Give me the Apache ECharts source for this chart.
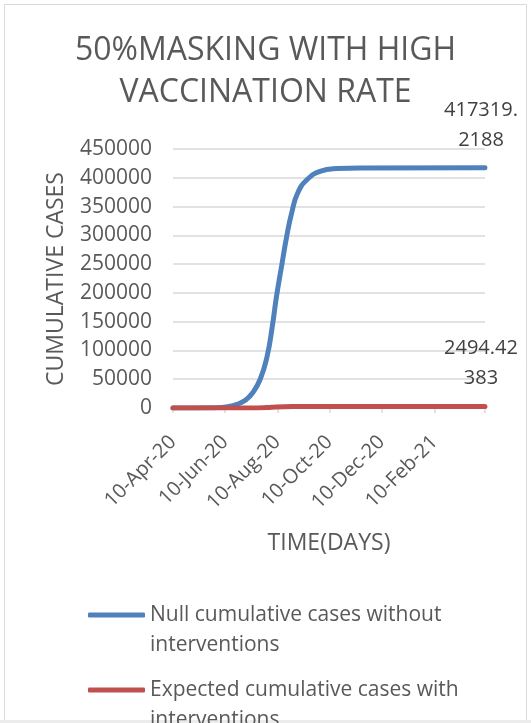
<!DOCTYPE html>
<html>
<head>
<meta charset="utf-8">
<script src="https://cdn.jsdelivr.net/npm/echarts@6/dist/echarts.min.js"></script>
<style>
  html, body { margin: 0; padding: 0; background: #ffffff; }
  #chart { width: 531px; height: 723px; }
</style>
</head>
<body>
<div id="chart"></div>
<script>
// Axis: one category per day, labelled every two months on the 10th
const startDate = '2020-04-10';
const endDate = '2021-04-10';
const tickLabels = ['10-Apr-20', '10-Jun-20', '10-Aug-20', '10-Oct-20', '10-Dec-20', '10-Feb-21'];
const yTicks = [0, 50000, 100000, 150000, 200000, 250000, 300000, 350000, 400000, 450000];

// Null cumulative cases without interventions
const nullDates = ['10-Apr-20', '30-May-20', '14-Jun-20', '24-Jun-20', '4-Jul-20', '12-Jul-20',
  '21-Jul-20', '29-Jul-20', '4-Aug-20', '9-Aug-20', '15-Aug-20', '21-Aug-20', '27-Aug-20',
  '3-Sep-20', '14-Sep-20', '29-Sep-20', '19-Oct-20', '16-Nov-20', '10-Apr-21'];
const nullValues = [0, 500, 2500, 6500, 14000, 26000, 50000, 89000, 140000, 193000, 246000,
  298000, 340000, 374000, 397000, 411000, 416000, 417200, 417319.2188];

// Expected cumulative cases with interventions
const expDates = ['10-Apr-20', '9-Jul-20', '29-Jul-20', '8-Aug-20', '18-Aug-20', '7-Sep-20', '10-Apr-21'];
const expValues = [0, 100, 800, 1800, 2300, 2480, 2494.42383];

const seriesNames = ['Null cumulative cases without interventions',
  'Expected cumulative cases with interventions'];
const yTitle = 'CUMULATIVE CASES';

const MONTHS = ['Jan', 'Feb', 'Mar', 'Apr', 'May', 'Jun', 'Jul', 'Aug', 'Sep', 'Oct', 'Nov', 'Dec'];
function fmtDate(d) {
  return d.getUTCDate() + '-' + MONTHS[d.getUTCMonth()] + '-' + String(d.getUTCFullYear()).slice(2);
}
const days = [];
for (let t = Date.parse(startDate); t <= Date.parse(endDate); t += 86400000) {
  days.push(fmtDate(new Date(t)));
}
const lastDay = days[days.length - 1];

const FONT = '"Open Sans", "Noto Sans", sans-serif';
const GREY = '#595959';

function pairs(xs, ys) { return xs.map((x, i) => [x, ys[i]]); }

// Value label on the final point of a series, split over two lines
function endLabel(series) {
  return series.map((p, i) => i === series.length - 1 ? {
    value: p,
    label: {
      show: true, position: 'top', distance: 12, offset: [-4, 0],
      fontFamily: FONT, fontSize: 20, lineHeight: 30, color: '#404040', align: 'center',
      formatter: (q) => { const s = String(q.value[1]); return s.slice(0, 7) + '\n' + s.slice(7); }
    }
  } : p);
}

const chart = echarts.init(document.getElementById('chart'), null, { renderer: 'canvas' });

chart.setOption({
  backgroundColor: '#ffffff',
  animation: false,
  title: {
    text: '50%MASKING WITH HIGH\nVACCINATION RATE',
    left: 'center', top: 25,
    textStyle: { fontFamily: FONT, fontSize: 32, fontWeight: 'normal', color: GREY, lineHeight: 42 }
  },
  grid: { left: 173, right: 46, top: 149, bottom: 315 },
  xAxis: {
    type: 'category',
    data: days,
    boundaryGap: false,
    name: 'TIME(DAYS)',
    nameLocation: 'middle',
    nameGap: 124,
    nameTextStyle: { fontFamily: FONT, fontSize: 23, color: GREY },
    axisLine: { lineStyle: { color: '#d9d9d9', width: 1.5 } },
    axisTick: {
      show: true, length: 5, lineStyle: { color: '#d9d9d9', width: 1.5 },
      interval: (i, v) => tickLabels.includes(v) || v === lastDay
    },
    axisLabel: {
      rotate: 45, margin: 31, fontFamily: FONT, fontSize: 20, color: GREY,
      interval: (i, v) => tickLabels.includes(v)
    },
    splitLine: { show: false }
  },
  yAxis: {
    type: 'value',
    min: yTicks[0], max: yTicks[yTicks.length - 1], interval: 50000,
    axisLine: { show: false },
    axisTick: { show: false },
    axisLabel: { margin: 21, fontFamily: FONT, fontSize: 21, color: GREY, formatter: (v) => String(v) },
    splitLine: { lineStyle: { color: '#d9d9d9', width: 1.5 } }
  },
  legend: [0, 1].map((k) => ({
    data: [{ name: seriesNames[k], icon: 'roundRect' }],
    left: 88,
    top: k === 0 ? 570 : 645,
    padding: 0,
    itemWidth: 57, itemHeight: 5,
    // leading blank line keeps the first text line level with the key line
    formatter: (n) => '\n' + n.replace(' interventions', '\ninterventions'),
    textStyle: { fontFamily: FONT, fontSize: 21, lineHeight: 30, color: GREY }
  })),
  series: [
    {
      name: seriesNames[0], type: 'line',
      data: endLabel(pairs(nullDates, nullValues)),
      smooth: 0.5,
      symbol: 'circle', symbolSize: 2, showSymbol: true, showAllSymbol: true,
      color: '#4F81BD',
      lineStyle: { width: 5, cap: 'round', join: 'round' },
      z: 3
    },
    {
      name: seriesNames[1], type: 'line',
      data: endLabel(pairs(expDates, expValues)),
      smooth: 0.5,
      symbol: 'circle', symbolSize: 2, showSymbol: true, showAllSymbol: true,
      color: '#C0504D',
      lineStyle: { width: 5, cap: 'round', join: 'round' },
      z: 4
    }
  ],
  graphic: [
    // vertical title of the value axis, centred on the plot height
    {
      type: 'text', x: 56, y: 279, rotation: Math.PI / 2, silent: true,
      style: { text: yTitle, font: '23px ' + FONT, fill: GREY, align: 'center', verticalAlign: 'middle' }
    },
    { type: 'rect', shape: { x: 4.5, y: 4.5, width: 522, height: 716 }, style: { fill: 'none', stroke: '#d9d9d9', lineWidth: 1 }, silent: true },
    { type: 'rect', shape: { x: 0, y: 720, width: 531, height: 3 }, style: { fill: '#ececec' }, silent: true }
  ]
});
</script>
</body>
</html>
